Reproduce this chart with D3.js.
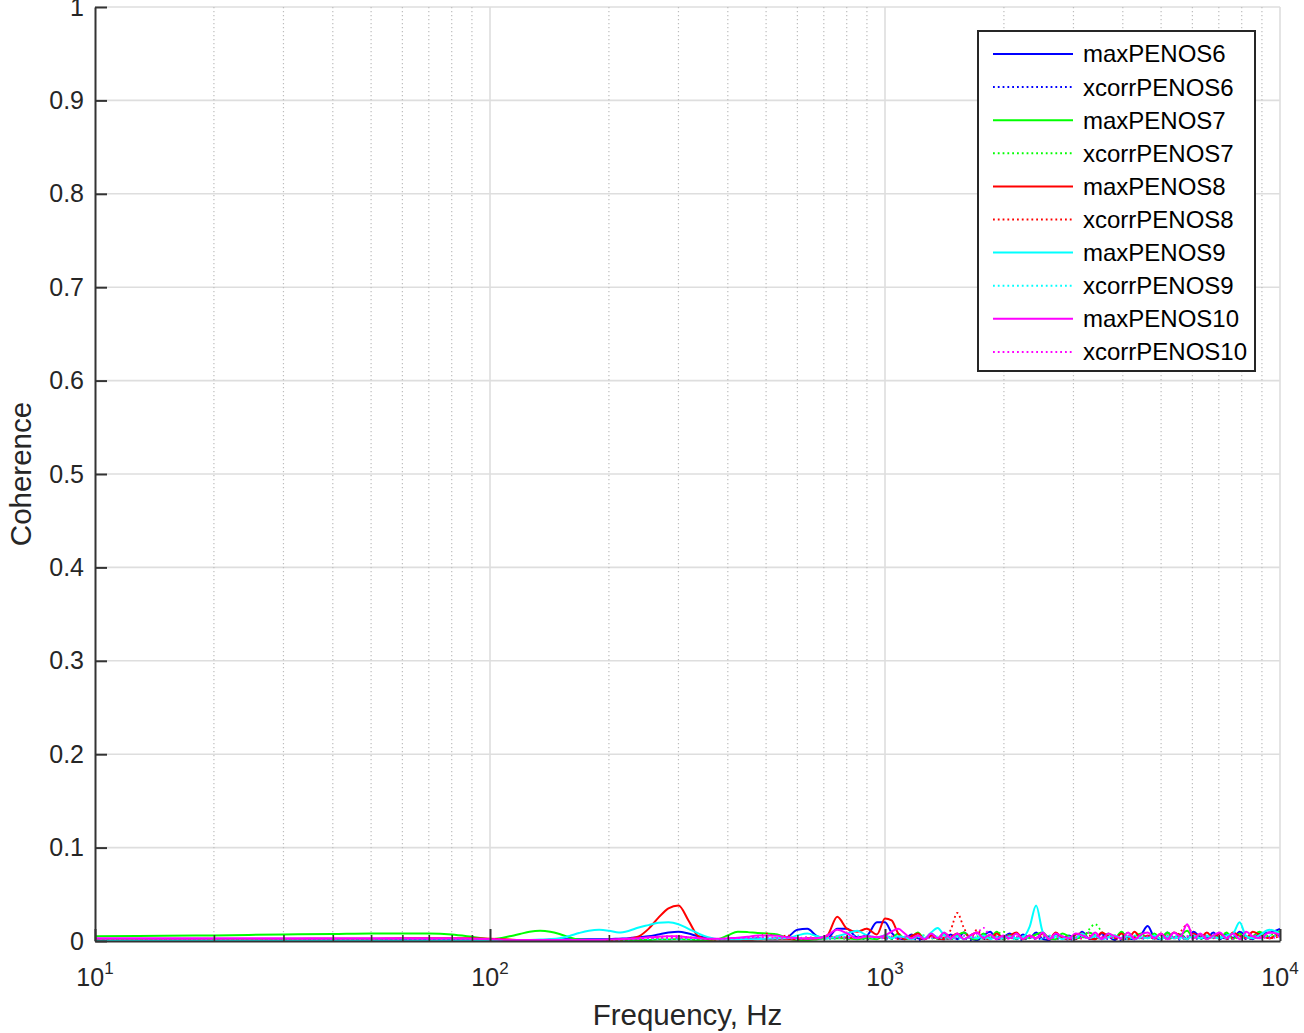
<!DOCTYPE html>
<html>
<head>
<meta charset="utf-8">
<script src="https://cdn.jsdelivr.net/npm/d3@7"></script>
<style>
  html, body { margin: 0; padding: 0; background: #fff; }
  svg { display: block; font-family: "Liberation Sans", Arial, sans-serif; }
</style>
</head>
<body>
<svg id="chart" width="1304" height="1033"></svg>
<script>
// ---------------- DATA ----------------
// Frequency grid (Hz), rows of 10
const FREQ = [
  10, 15, 20, 30, 40, 50, 60, 70, 80, 90,
  100, 106, 112, 119, 126, 134, 142, 150, 159, 168,
  178, 189, 200, 212, 225, 238, 252, 267, 283, 300,
  318, 337, 357, 378, 400, 424, 449, 476, 504, 534,
  566, 600, 636, 674, 714, 757, 802, 850, 900, 954,
  1000, 1039, 1080, 1122, 1166, 1211, 1259, 1308, 1359, 1412,
  1467, 1524, 1584, 1646, 1710, 1776, 1846, 1918, 1993, 2070,
  2151, 2235, 2323, 2413, 2507, 2605, 2707, 2812, 2922, 3036,
  3155, 3278, 3406, 3538, 3676, 3820, 3969, 4124, 4284, 4451,
  4625, 4805, 4993, 5188, 5390, 5600, 5819, 6046, 6282, 6527,
  6781, 7046, 7321, 7606, 7903, 8211, 8532, 8864, 9400, 10000
];

// Coherence values in thousandths (x 0.001), aligned with FREQ
const maxPENOS6 = [
  1, 1, 1, 1, 1, 1, 1, 1, 1, 1,
  0.5, 0.5, 0.5, 1, 1, 1, 1.5, 2, 2, 2,
  2, 2, 2, 2.5, 3, 4, 5, 7, 9, 10,
  8, 5, 3, 2, 2, 1.5, 2, 3, 2, 2,
  4, 12, 13, 5, 3, 13, 13, 4, 6, 20,
  20, 9, 3, 2, 7, 3, 2, 8, 3, 2,
  7, 2, 9, 3, 1, 6, 10, 2, 4, 8,
  2, 7, 3, 9, 2, 1, 8, 3, 6, 2,
  10, 3, 2, 8, 5, 1, 9, 3, 2, 7,
  16, 4, 2, 9, 3, 7, 2, 10, 4, 3,
  9, 2, 7, 3, 10, 5, 2, 8, 9, 13
];
const xcorrPENOS6 = [
  0.5, 0.5, 0.5, 0.5, 0.5, 0.5, 0.5, 0.5, 0.5, 0.5,
  0.5, 0.5, 0.5, 0.5, 1, 1, 1, 1, 1, 1,
  1, 1, 1, 1, 1.5, 1.5, 2, 2, 3, 3,
  2, 1.5, 1, 1, 1, 1, 1.5, 2, 2, 3,
  2, 2, 3, 2, 2, 3, 4, 3, 2, 4,
  3, 2, 4, 2, 3, 1, 2, 4, 2, 3,
  2, 5, 3, 1, 4, 2, 3, 5, 2, 4,
  3, 1, 4, 2, 3, 5, 2, 4, 1, 3,
  5, 2, 3, 6, 2, 4, 1, 3, 5, 2,
  4, 3, 6, 2, 4, 1, 5, 3, 2, 6,
  3, 5, 2, 4, 6, 2, 3, 5, 4, 7
];
const maxPENOS7 = [
  5, 5.5, 6, 7, 7.5, 8, 8, 8, 7, 4.5,
  2, 3, 5, 7.5, 10, 11, 10, 7.5, 4, 1.5,
  1, 1, 1, 1, 1, 1, 1, 1.5, 1.5, 2,
  1.5, 1, 1, 2, 6, 10, 9.5, 8.5, 8, 7,
  3, 1, 1, 2, 3, 3, 3, 2, 3, 2,
  6, 3, 8, 2, 4, 9, 2, 6, 3, 8,
  2, 6, 9, 3, 2, 8, 3, 10, 2, 6,
  8, 2, 4, 7, 9, 3, 2, 8, 5, 3,
  4, 9, 6, 2, 8, 3, 10, 2, 5, 8,
  3, 8, 2, 9, 3, 6, 11, 3, 7, 2,
  6, 3, 9, 2, 8, 3, 5, 10, 3, 11
];
const xcorrPENOS7 = [
  1, 1, 1, 1, 1, 1, 1, 1, 1, 1,
  1, 1, 1, 1, 1, 1, 1, 1, 1, 1,
  1, 1, 1, 1, 1.5, 2, 2, 3, 2, 2,
  2, 2, 1.5, 1.5, 2, 3, 3, 2, 2, 3,
  3, 2, 3, 4, 3, 4, 2, 3, 5, 3,
  4, 2, 5, 3, 2, 4, 6, 3, 2, 5,
  3, 6, 2, 4, 5, 2, 3, 7, 10, 4,
  2, 5, 3, 4, 6, 2, 5, 3, 4, 6,
  3, 12, 18, 10, 4, 6, 3, 9, 4, 3,
  5, 3, 6, 2, 4, 7, 3, 5, 2, 6,
  3, 6, 4, 2, 5, 8, 3, 4, 6, 10
];
const maxPENOS8 = [
  2, 2, 2, 2, 2.5, 2.5, 3, 3, 3, 3,
  2.5, 2, 1.5, 1, 1, 1, 1, 1, 1, 1,
  1, 1, 1, 1.5, 2.5, 5, 13, 25, 35, 38,
  22, 5, 2, 1.5, 1, 1, 1, 1.5, 2, 2,
  2, 2, 3, 3, 6, 26, 13, 10, 13, 7,
  24, 22, 8, 2, 5, 8, 2, 6, 3, 2,
  4, 8, 2, 6, 9, 3, 2, 8, 3, 6,
  9, 2, 6, 3, 8, 2, 9, 3, 2, 7,
  8, 3, 2, 9, 5, 3, 8, 2, 10, 3,
  6, 2, 8, 3, 9, 5, 2, 8, 3, 9,
  3, 8, 2, 9, 5, 3, 10, 7, 3, 9
];
const xcorrPENOS8 = [
  1, 1, 1, 1, 1, 1, 1, 1, 1, 1,
  1, 1, 1, 1, 1, 1, 1, 1, 1, 1,
  1, 1, 1.5, 1.5, 2, 2, 3, 4, 5, 5,
  4, 3, 2, 2, 2, 3, 3, 4, 8, 3,
  6, 3, 2, 3, 4, 5, 4, 3, 5, 4,
  3, 5, 2, 4, 6, 3, 2, 5, 3, 4,
  12, 30, 14, 3, 12, 4, 3, 5, 2, 6,
  4, 2, 5, 3, 6, 2, 4, 3, 5, 2,
  3, 6, 2, 4, 5, 3, 2, 6, 4, 3,
  5, 3, 4, 6, 2, 10, 17, 5, 3, 6,
  4, 2, 6, 3, 5, 4, 2, 7, 3, 5
];
const maxPENOS9 = [
  0.5, 0.5, 0.5, 0.5, 0.5, 0.5, 0.5, 0.5, 0.5, 0.5,
  0.5, 0.5, 0.5, 0.5, 1, 1.5, 2, 3, 5.5, 8.5,
  11, 12, 11, 9, 11, 14.5, 17, 19.5, 20, 18,
  13, 8, 4, 2, 1.5, 1.5, 2, 2, 2.5, 3,
  3, 6, 8, 5, 3, 5, 8, 11, 6, 4,
  6, 3, 5, 4, 2, 5, 3, 9, 14, 6,
  3, 5, 2, 4, 3, 6, 2, 4, 3, 5,
  3, 4, 15, 38, 10, 3, 5, 2, 4, 3,
  8, 3, 5, 2, 4, 6, 3, 5, 2, 4,
  3, 6, 2, 5, 3, 4, 2, 6, 3, 5,
  4, 3, 6, 8, 20, 5, 3, 6, 12, 8
];
const xcorrPENOS9 = [
  0.5, 0.5, 0.5, 0.5, 0.5, 0.5, 0.5, 0.5, 0.5, 0.5,
  0.5, 0.5, 0.5, 0.5, 0.5, 0.5, 0.5, 1, 1, 1,
  1, 1, 1, 1, 1.5, 2, 2, 2, 2, 2,
  2, 2, 2, 2, 2, 2, 2, 3, 3, 2,
  3, 2, 4, 3, 2, 3, 4, 6, 3, 4,
  2, 4, 3, 5, 2, 4, 6, 3, 5, 2,
  4, 2, 5, 3, 6, 2, 4, 3, 5, 3,
  2, 5, 3, 4, 2, 6, 3, 5, 2, 4,
  5, 3, 6, 2, 4, 3, 5, 2, 6, 3,
  4, 2, 5, 3, 6, 2, 4, 5, 3, 6,
  3, 5, 2, 6, 4, 3, 5, 2, 6, 4
];
const maxPENOS10 = [
  3, 3, 3, 3, 3, 3, 3, 3, 3, 2.5,
  2, 1.5, 1, 1, 1, 1, 1, 1, 1, 1,
  1, 1, 1.5, 2, 2.5, 3, 4, 4.5, 5, 5,
  4, 3, 2.5, 2.5, 3, 3.5, 4.5, 6, 6, 5.5,
  4, 3, 2.5, 3, 6, 12, 8, 3, 5, 4,
  6, 10, 13, 8, 3, 6, 2, 8, 3, 9,
  3, 8, 2, 6, 9, 3, 7, 2, 6, 3,
  8, 2, 6, 3, 9, 2, 8, 5, 3, 8,
  6, 3, 9, 2, 8, 5, 3, 9, 2, 7,
  9, 3, 8, 2, 9, 5, 18, 3, 8, 2,
  6, 9, 3, 8, 2, 10, 5, 3, 9, 7
];
const xcorrPENOS10 = [
  2, 2, 2, 2, 2, 2, 2, 2, 2, 2,
  2, 1.5, 1, 1, 1, 1, 1, 1, 1, 1,
  1, 1, 1, 1.5, 2, 2, 3, 3, 3, 3,
  3, 3, 2, 2, 2, 3, 3, 4, 4, 3,
  3, 3, 4, 3, 3, 4, 3, 4, 5, 4,
  3, 5, 2, 4, 3, 6, 2, 4, 3, 5,
  2, 4, 6, 3, 8, 14, 5, 3, 4, 2,
  5, 3, 4, 2, 6, 3, 4, 5, 2, 4,
  3, 9, 6, 4, 3, 5, 2, 6, 4, 3,
  5, 3, 6, 2, 4, 3, 5, 2, 6, 4,
  3, 6, 4, 2, 5, 3, 6, 4, 3, 5
];

const SERIES_NAMES = ["maxPENOS6", "xcorrPENOS6", "maxPENOS7", "xcorrPENOS7", "maxPENOS8",
                      "xcorrPENOS8", "maxPENOS9", "xcorrPENOS9", "maxPENOS10", "xcorrPENOS10"];
const SERIES_VALUES = [maxPENOS6, xcorrPENOS6, maxPENOS7, xcorrPENOS7, maxPENOS8,
                       xcorrPENOS8, maxPENOS9, xcorrPENOS9, maxPENOS10, xcorrPENOS10];

const Y_TICKS = [0, 0.1, 0.2, 0.3, 0.4, 0.5, 0.6, 0.7, 0.8, 0.9, 1];
const Y_TICK_LABELS = ["0", "0.1", "0.2", "0.3", "0.4", "0.5", "0.6", "0.7", "0.8", "0.9", "1"];
const X_MAJOR = [10, 100, 1000, 10000];
const X_MAJOR_EXP = ["1", "2", "3", "4"];
const X_MINOR = [20, 30, 40, 50, 60, 70, 80, 90, 200, 300, 400, 500, 600, 700, 800, 900,
                 2000, 3000, 4000, 5000, 6000, 7000, 8000, 9000];
const X_LABEL = "Frequency, Hz";
const Y_LABEL = "Coherence";

// ---------------- STYLE ----------------
const COLORS = ["#0000ff", "#0000ff", "#00ff00", "#00ff00", "#ff0000",
                "#ff0000", "#00ffff", "#00ffff", "#ff00ff", "#ff00ff"];
const DOTTED = [false, true, false, true, false, true, false, true, false, true];

const L = 95, R = 1280, T = 7, B = 941;
const svg = d3.select("#chart");

const x = d3.scaleLog().domain([10, 10000]).range([L, R]);
const y = d3.scaleLinear().domain([0, 1]).range([B, T]);

// grid
const grid = svg.append("g");
grid.selectAll(".hg").data(Y_TICKS.filter(d => d > 0)).enter().append("line")
  .attr("x1", L).attr("x2", R).attr("y1", d => y(d)).attr("y2", d => y(d))
  .attr("stroke", "#dedede").attr("stroke-width", 1.6);
grid.selectAll(".vmin").data(X_MINOR).enter().append("line")
  .attr("x1", d => x(d)).attr("x2", d => x(d)).attr("y1", T).attr("y2", B)
  .attr("stroke", "#bdbdbd").attr("stroke-width", 1.2).attr("stroke-dasharray", "1.3,2.7");
grid.selectAll(".vmaj").data(X_MAJOR.slice(1)).enter().append("line")
  .attr("x1", d => x(d)).attr("x2", d => x(d)).attr("y1", T).attr("y2", B)
  .attr("stroke", "#dedede").attr("stroke-width", 1.6);

// clip
svg.append("clipPath").attr("id", "clip").append("rect")
  .attr("x", L).attr("y", T).attr("width", R - L).attr("height", B - T);

const line = d3.line()
  .x(d => x(d[0]))
  .y(d => y(d[1] / 1000))
  .curve(d3.curveMonotoneX);

const plot = svg.append("g").attr("clip-path", "url(#clip)");
SERIES_VALUES.forEach((vals, i) => {
  const pts = FREQ.map((f, k) => [f, vals[k]]).filter(p => p[1] !== undefined);
  plot.append("path")
    .attr("d", line(pts))
    .attr("fill", "none")
    .attr("stroke", COLORS[i])
    .attr("stroke-width", DOTTED[i] ? 1.8 : 2)
    .attr("stroke-dasharray", DOTTED[i] ? "1.8,3" : null)
    .attr("stroke-linejoin", "round");
});

// axes
const axisColor = "#333333";
const yAxis = svg.append("g").attr("transform", `translate(${L},0)`)
  .call(d3.axisLeft(y).tickValues(Y_TICKS).tickFormat((d, i) => Y_TICK_LABELS[i])
        .tickSize(-12).tickSizeOuter(0).tickPadding(11));
yAxis.select(".domain").attr("stroke", axisColor).attr("stroke-width", 2);
yAxis.selectAll(".tick line").attr("stroke", axisColor).attr("stroke-width", 2);
yAxis.selectAll(".tick text").attr("font-size", 25).attr("fill", "#262626")
  .attr("font-family", "Liberation Sans, Arial, sans-serif");

const xAxisMinor = svg.append("g").attr("transform", `translate(0,${B})`)
  .call(d3.axisBottom(x).tickValues(X_MINOR).tickFormat("").tickSize(-6).tickSizeOuter(0));
xAxisMinor.select(".domain").remove();
xAxisMinor.selectAll(".tick line").attr("stroke", axisColor).attr("stroke-width", 1.6);

const xAxis = svg.append("g").attr("transform", `translate(0,${B})`)
  .call(d3.axisBottom(x).tickValues(X_MAJOR).tickFormat("").tickSize(-12).tickSizeOuter(0));
xAxis.select(".domain").attr("stroke", axisColor).attr("stroke-width", 2);
xAxis.selectAll(".tick line").attr("stroke", axisColor).attr("stroke-width", 2);

// x tick labels 10^n
X_MAJOR.forEach((v, i) => {
  const t = svg.append("text")
    .attr("x", x(v)).attr("y", 986)
    .attr("text-anchor", "middle")
    .attr("font-size", 25).attr("fill", "#262626");
  t.append("tspan").text("10");
  t.append("tspan").attr("font-size", 17).attr("dy", -12).text(X_MAJOR_EXP[i]);
});

// axis labels
svg.append("text").attr("x", (L + R) / 2).attr("y", 1025)
  .attr("text-anchor", "middle").attr("font-size", 29.5).attr("fill", "#262626")
  .text(X_LABEL);
svg.append("text").attr("transform", `translate(31,${(T + B) / 2}) rotate(-90)`)
  .attr("text-anchor", "middle").attr("font-size", 29.5).attr("fill", "#262626")
  .text(Y_LABEL);

// legend
const lg = svg.append("g");
lg.append("rect").attr("x", 978).attr("y", 31).attr("width", 277).attr("height", 340)
  .attr("fill", "#fff").attr("stroke", "#262626").attr("stroke-width", 2);
SERIES_NAMES.forEach((name, i) => {
  const cy = 54 + i * 33.1;
  lg.append("line").attr("x1", 993).attr("x2", 1073).attr("y1", cy).attr("y2", cy)
    .attr("stroke", COLORS[i]).attr("stroke-width", 2)
    .attr("stroke-dasharray", DOTTED[i] ? "1.8,3" : null);
  lg.append("text").attr("x", 1083).attr("y", cy).attr("dy", "0.35em")
    .attr("font-size", 24).attr("fill", "#000").text(name);
});
</script>
</body>
</html>
